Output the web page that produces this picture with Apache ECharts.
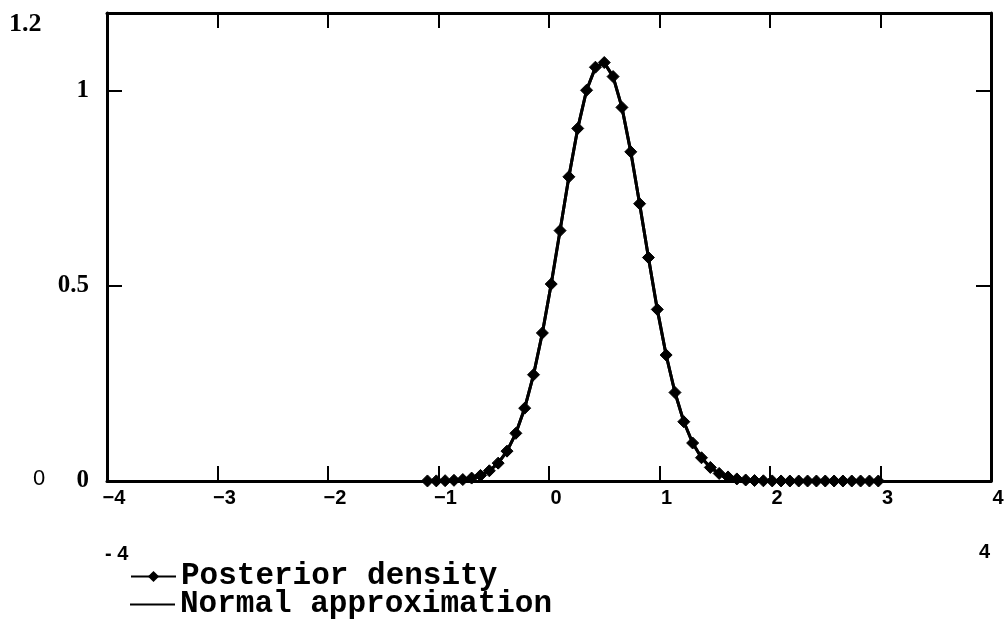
<!DOCTYPE html>
<html>
<head>
<meta charset="utf-8">
<script src="https://cdn.jsdelivr.net/npm/echarts@6/dist/echarts.min.js"></script>
<style>
html,body{margin:0;padding:0;background:#fff;}
#c{width:1008px;height:621px;}
</style>
</head>
<body>
<div id="c"></div>
<script>
// x grid of the evaluated points
const xValues = [-1.10,-1.02,-0.94,-0.86,-0.78,-0.70,-0.62,-0.54,-0.46,-0.38,-0.30,-0.22,-0.14,-0.06,0.02,0.10,0.18,0.26,0.34,0.42,0.50,0.58,0.66,0.74,0.82,0.90,0.98,1.06,1.14,1.22,1.30,1.38,1.46,1.54,1.62,1.70,1.78,1.86,1.94,2.02,2.10,2.18,2.26,2.34,2.42,2.50,2.58,2.66,2.74,2.82,2.90,2.98];
// posterior density values
const posterior = [0.0001,0.0003,0.0008,0.0018,0.0037,0.0075,0.0143,0.0262,0.0458,0.0766,0.1223,0.1868,0.2724,0.3796,0.505,0.642,0.780,0.904,1.002,1.061,1.073,1.037,0.958,0.844,0.711,0.573,0.440,0.323,0.227,0.152,0.0974,0.0596,0.0348,0.0194,0.0104,0.0053,0.0026,0.0012,0.0005,0.0002,0.0001,0,0,0,0,0,0,0,0,0,0,0];
// normal approximation values
const normalApprox = [0.0001,0.0003,0.0008,0.0018,0.0037,0.0075,0.0143,0.0262,0.0458,0.0766,0.1223,0.1868,0.2724,0.3796,0.505,0.642,0.780,0.904,1.002,1.060,1.072,1.037,0.958,0.844,0.711,0.573,0.440,0.323,0.227,0.152,0.0974,0.0596,0.0348,0.0194,0.0104,0.0053,0.0026,0.0012,0.0005,0.0002,0.0001,0,0,0,0,0,0,0,0,0,0,0];
const seriesNames = ['Posterior density','Normal approximation'];
const xTickLabels = ['\u22124','\u22123','\u22122','\u22121','0','1','2','3','4'];

const postData = xValues.map((x,i)=>[x,posterior[i]]);
const normData = xValues.map((x,i)=>[x,normalApprox[i]]);

const chart = echarts.init(document.getElementById('c'));
const axisLine = {show:true, onZero:false, lineStyle:{color:'#000', width:3}};
const tick = {show:true, inside:true, length:15, lineStyle:{color:'#000', width:2}};
const legendText = {color:'#000', fontFamily:'Liberation Mono', fontWeight:'bold', fontSize:31};
chart.setOption({
  animation:false,
  backgroundColor:'#fff',
  grid:{left:107, right:17, top:13, bottom:140},
  xAxis:[
    {type:'value', position:'bottom', min:-4, max:4, interval:1,
     axisLine:axisLine, axisTick:tick, splitLine:{show:false},
     axisLabel:{margin:7, color:'#000', fontFamily:'Liberation Sans', fontWeight:'bold', fontSize:20,
       padding:[0,0,0,14],
       formatter:(v)=>xTickLabels[Math.round(v)+4]}},
    {type:'value', position:'top', min:-4, max:4, interval:1,
     axisLine:axisLine, axisTick:tick, splitLine:{show:false}, axisLabel:{show:false}}
  ],
  yAxis:[
    {type:'value', position:'left', min:0, max:1.2, interval:0.5,
     axisLine:axisLine, axisTick:tick, splitLine:{show:false},
     axisLabel:{margin:18, color:'#000', fontFamily:'Liberation Serif', fontWeight:'bold', fontSize:25,
       formatter:(v)=> v>1.1 ? '' : String(v)}},
    {type:'value', position:'right', min:0, max:1.2, interval:0.5,
     axisLine:axisLine, axisTick:tick, splitLine:{show:false}, axisLabel:{show:false}}
  ],
  legend:[
    {left:130, top:561, itemWidth:45, itemHeight:14, padding:0,
     data:[seriesNames[0]], textStyle:legendText},
    {left:130, top:589, itemWidth:45, padding:0,
     data:[{name:seriesNames[1], icon:'rect', itemStyle:{color:'#000'}}],
     itemHeight:2, textStyle:legendText}
  ],
  graphic:[
    {type:'text', left:9, top:11, style:{text:'1.2', font:'bold 26px "Liberation Serif"', fill:'#000'}},
    {type:'text', left:33, top:468, style:{text:'0', font:'22px "Liberation Sans"', fill:'#000'}},
    {type:'text', left:105, top:544, style:{text:'- 4', font:'bold 20px "Liberation Sans"', fill:'#000'}},
    {type:'text', left:979, top:542, style:{text:'4', font:'bold 20px "Liberation Sans"', fill:'#000'}}
  ],
  series:[
    {name:seriesNames[1], type:'line', data:normData, symbol:'none',
     lineStyle:{color:'#000', width:3}, itemStyle:{color:'#000'}, z:2},
    {name:seriesNames[0], type:'line', data:postData, symbol:'diamond', symbolSize:12, showAllSymbol:true,
     lineStyle:{color:'#000', width:3}, itemStyle:{color:'#000', borderColor:'#000'}, z:3}
  ]
});
</script>
</body>
</html>
